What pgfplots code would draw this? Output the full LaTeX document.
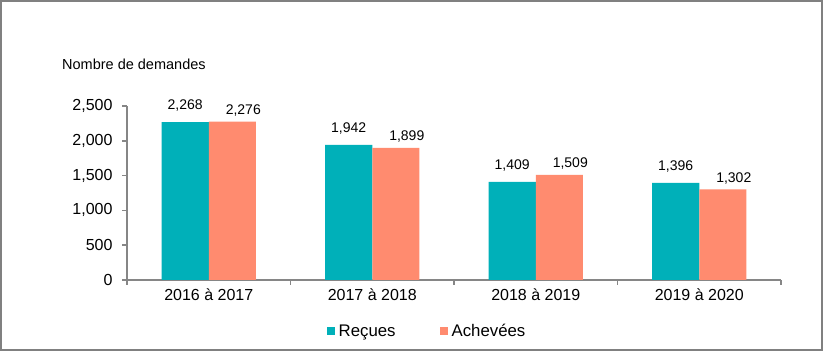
\documentclass[border=0pt]{standalone}
\usepackage{pgfplots}
\pgfplotsset{compat=1.18}
\usepackage{fontspec}
\setmainfont{Liberation Sans}
\definecolor{tealc}{RGB}{0,176,185}
\definecolor{salmonc}{RGB}{255,139,111}
\definecolor{axgray}{RGB}{134,134,134}
\definecolor{framegray}{RGB}{128,128,128}
\begin{document}
\begin{tikzpicture}
\useasboundingbox (0,0) rectangle (823bp,351bp);
\fill[white] (0,0) rectangle (823bp,351bp);
\draw[framegray, line width=2bp] (1bp,1bp) rectangle (822bp,350bp);
\node[anchor=west, inner sep=0, font=\fontsize{14.5bp}{17bp}\selectfont] at (62bp,287bp) {Nombre de demandes};
\begin{axis}[
  at={(127bp,71bp)}, anchor=south west,
  scale only axis, width=654bp, height=174bp,
  xmin=-0.5, xmax=3.5, ymin=0, ymax=2500,
  ytick={0,500,...,2500},
  xtick={0,1,2,3},
  xticklabels={2016 à 2017, 2017 à 2018, 2018 à 2019, 2019 à 2020},
  minor xtick={-0.5,0.5,1.5,2.5,3.5},
  axis lines*=left,
  axis line style={axgray, line width=1.5bp, -},
  tick align=outside,
  major tick length=5bp, minor tick length=5bp,
  major x tick style={draw=none},
  minor x tick style={axgray, line width=1.5bp},
  major y tick style={axgray, line width=1.5bp},
  tick label style={font=\fontsize{16bp}{19bp}\selectfont},
  yticklabel style={xshift=-6bp},
  /pgf/number format/assume math mode=true,
  /pgf/number format/1000 sep={,},
  ybar,
  bar width=0.288,
  legend style={draw=none, fill=none, at={(0.305,-0.293)}, anchor=west,
    legend columns=2, font=\fontsize{16.8bp}{19bp}\selectfont,
    /tikz/every even column/.append style={column sep=42bp},
    /tikz/every odd column/.append style={column sep=2bp},
    inner sep=0pt},
  legend image code/.code={\fill[#1] (0bp,-4bp) rectangle (8bp,4bp);},
]
\addplot[fill=tealc, draw=none, bar shift=-0.144,
  nodes near coords,
  every node near coord/.append style={font=\fontsize{14bp}{17bp}\selectfont, black, yshift=7bp}]
  coordinates {(0,2268) (1,1942) (2,1409) (3,1396)};
\addplot[fill=salmonc, draw=none, bar shift=0.144,
  nodes near coords,
  every node near coord/.append style={font=\fontsize{14bp}{17bp}\selectfont, black, yshift=2bp, xshift=11bp}]
  coordinates {(0,2276) (1,1899) (2,1509) (3,1302)};
\legend{Reçues, Achevées}
\end{axis}
\end{tikzpicture}
\end{document}
